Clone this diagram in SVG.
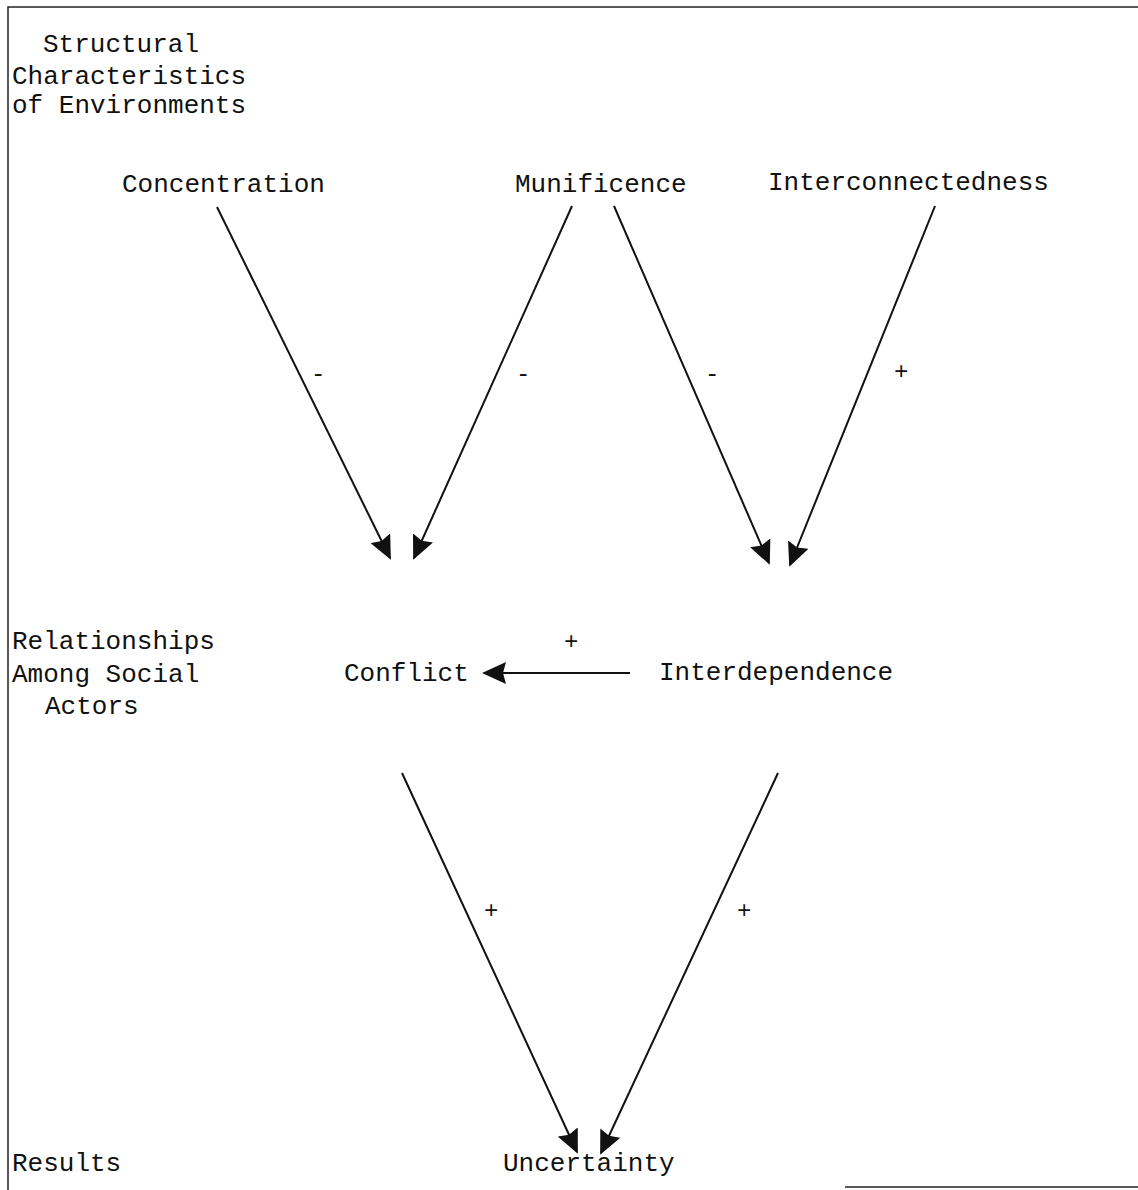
<svg xmlns="http://www.w3.org/2000/svg" width="1138" height="1190" viewBox="0 0 1138 1190">
<style>
text{font-family:"Liberation Mono","Courier New",monospace;font-size:26px;fill:#111}
.sign{font-size:24px}
.edge{stroke:#111;stroke-width:2;fill:none;marker-end:url(#ah)}
.frame{stroke:#222;stroke-width:1.5;fill:none}
</style>
<defs>
<marker id="ah" viewBox="0 0 24 22" refX="22" refY="11" markerWidth="24" markerHeight="22" markerUnits="userSpaceOnUse" orient="auto">
<path d="M0,0 L24,11 L0,22 L3,11 Z" fill="#111"/>
</marker>
</defs>
<rect width="1138" height="1190" fill="#fff"/>
<g id="frame">
<path class="frame" d="M8,1190 L8,7 L1138,7"/>
<path class="frame" d="M845,1187 L1138,1187"/>
</g>
<g id="labels">
<text x="43" y="52">Structural</text>
<text x="12" y="84">Characteristics</text>
<text x="12" y="113">of Environments</text>
<text x="12" y="649">Relationships</text>
<text x="12" y="682">Among Social</text>
<text x="45" y="714">Actors</text>
<text x="12" y="1171">Results</text>
</g>
<g id="concentration"><text x="122" y="192">Concentration</text></g>
<g id="munificence"><text x="515" y="192">Munificence</text></g>
<g id="interconnectedness"><text x="768" y="190">Interconnectedness</text></g>
<g id="conflict"><text x="344" y="681">Conflict</text></g>
<g id="interdependence"><text x="659" y="680">Interdependence</text></g>
<g id="uncertainty"><text x="503" y="1171">Uncertainty</text></g>
<g id="connectors">
<line class="edge" x1="217" y1="207" x2="390" y2="558"/>
<line class="edge" x1="572" y1="206" x2="414" y2="558"/>
<line class="edge" x1="614" y1="206" x2="769" y2="563"/>
<line class="edge" x1="935" y1="206" x2="790" y2="565"/>
<line class="edge" x1="630" y1="673" x2="484" y2="673"/>
<line class="edge" x1="402" y1="773" x2="577" y2="1152"/>
<line class="edge" x1="778" y1="773" x2="601" y2="1153"/>
<text class="sign" x="311" y="381">-</text>
<text class="sign" x="516" y="381">-</text>
<text class="sign" x="705" y="381">-</text>
<text class="sign" x="894" y="379">+</text>
<text class="sign" x="564" y="649">+</text>
<text class="sign" x="484" y="918">+</text>
<text class="sign" x="737" y="918">+</text>
</g>
</svg>
